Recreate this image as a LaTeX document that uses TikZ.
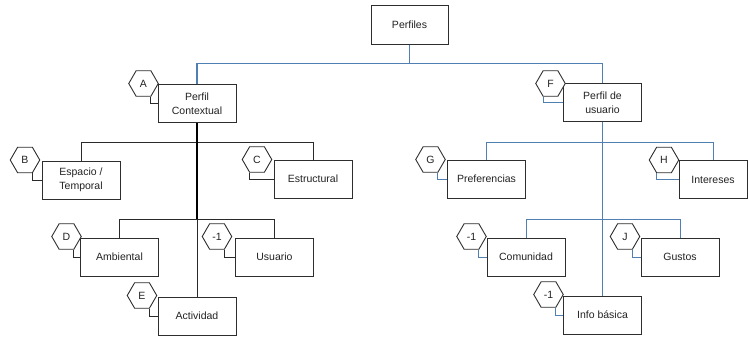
\documentclass[tikz,border=0pt]{standalone}
\usepackage{fontspec}
\setmainfont{Liberation Sans}
\usetikzlibrary{shapes.geometric}
\definecolor{boxline}{HTML}{2E2E2E}
\definecolor{darkline}{HTML}{2A2A2A}
\definecolor{blueline}{HTML}{4F7FB3}
\definecolor{txt}{HTML}{222222}
\tikzset{
  item/.style={draw=boxline, line width=1pt, fill=white, minimum width=78pt,
    minimum height=38pt, inner sep=1pt, align=center, text=txt,
    font=\fontsize{10.5}{13.5}\selectfont},
  hex/.style={draw=boxline, line width=0.9pt, fill=white, regular polygon,
    regular polygon sides=6, minimum size=29.5pt,
    inner sep=0pt, text=txt, font=\fontsize{10.5}{12}\selectfont},
  leftlink/.style={draw=darkline, line width=0.9pt},
  trunk/.style={draw=black, line width=2pt},
  rightlink/.style={draw=blueline, line width=0.9pt},
  toplink/.style={draw=blueline, line width=1.1pt},
  righttrunk/.style={draw=blueline, line width=1.3pt},
}
\begin{document}
\begin{tikzpicture}[x=1pt, y=-1pt]
\useasboundingbox (0,0) rectangle (748,338);

% bus heights
\coordinate (busTop) at (0,63.5);
\coordinate (busOne) at (0,142);
\coordinate (busTwo) at (0,219);

% boxes
\node[item, minimum width=77pt, minimum height=39pt] (P) at (409.5,24.5) {Perfiles};
\node[item] (PC) at (197,103.5) {Perfil\\Contextual};
\node[item] (PU) at (602.5,102.5) {Perfil de\\usuario};

\node[item] (B) at (81,180) {Espacio /\\Temporal};
\node[item] (C) at (313,179) {Estructural};
\node[item] (D) at (119.5,257) {Ambiental};
\node[item] (U) at (274.5,257) {Usuario};
\node[item] (E) at (197,316) {Actividad};

\node[item] (G) at (486.5,179) {Preferencias};
\node[item, minimum width=68pt] (H) at (713,179.5) {Intereses};
\node[item] (Com) at (526,257) {Comunidad};
\node[item] (Gus) at (680,257) {Gustos};
\node[item] (Info) at (602.5,315) {Info básica};

% top level
\draw[toplink] (P.south) -- (P.south |- busTop);
\draw[toplink] (PC.north) -- (PC.north |- busTop) -| (PU.north);

% left tree
\draw[leftlink] (B.north) -- (B.north |- busOne) -| (C.north);
\draw[leftlink] (D.north) -- (D.north |- busTwo) -| (U.north);
\draw[trunk] (PC.south) -- (PC.south |- busTwo);
\draw[leftlink, line width=1pt] (PC.south |- busTwo) -- (E.north);

% right tree
\draw[rightlink] (G.north) -- (G.north |- busOne) -| (H.north);
\draw[rightlink] (Com.north) -- (Com.north |- busTwo) -| (Gus.north);
\draw[righttrunk] (PU.south) -- (Info.north);

% hexagon tags
\node[hex] (hA) at ([shift={(-14,-0.5)}]PC.north west) {A};
\node[hex] (hF) at ([shift={(-12.5,0.5)}]PU.north west) {F};
\node[hex] (hB) at ([shift={(-16.5,-0.5)}]B.north west) {B};
\node[hex] (hC) at ([shift={(-16.5,0)}]C.north west) {C};
\node[hex] (hD) at ([shift={(-13.5,-1)}]D.north west) {D};
\node[hex] (hU) at ([shift={(-18,-1)}]U.north west) {-1};
\node[hex] (hE) at ([shift={(-15.5,-1)}]E.north west) {E};
\node[hex] (hG) at ([shift={(-16.5,0)}]G.north west) {G};
\node[hex] (hH) at ([shift={(-14.5,0)}]H.north west) {H};
\node[hex] (hCom) at ([shift={(-15,-1)}]Com.north west) {-1};
\node[hex] (hGus) at ([shift={(-15.5,-1)}]Gus.north west) {J};
\node[hex] (hInfo) at ([shift={(-14.5,-1)}]Info.north west) {-1};

% tag leaders
\draw[leftlink] ([xshift=7.25pt]hA.south) |- (PC.west);
\draw[leftlink] ([xshift=7.25pt]hB.south) |- (B.west);
\draw[leftlink] ([xshift=-7.25pt]hC.south) |- (C.west);
\draw[leftlink] ([xshift=7.25pt]hD.south) |- (D.west);
\draw[leftlink] ([xshift=7.25pt]hU.south) |- (U.west);
\draw[leftlink] ([xshift=7.25pt]hE.south) |- (E.west);
\draw[rightlink] ([xshift=-7.25pt]hF.south) |- (PU.west);
\draw[rightlink] ([xshift=7.25pt]hG.south) |- (G.west);
\draw[rightlink] ([xshift=-7.25pt]hH.south) |- (H.west);
\draw[rightlink] ([xshift=7.25pt]hCom.south) |- (Com.west);
\draw[rightlink] ([xshift=7.25pt]hGus.south) |- (Gus.west);
\draw[rightlink] ([xshift=7.25pt]hInfo.south) |- (Info.west);
\end{tikzpicture}
\end{document}
